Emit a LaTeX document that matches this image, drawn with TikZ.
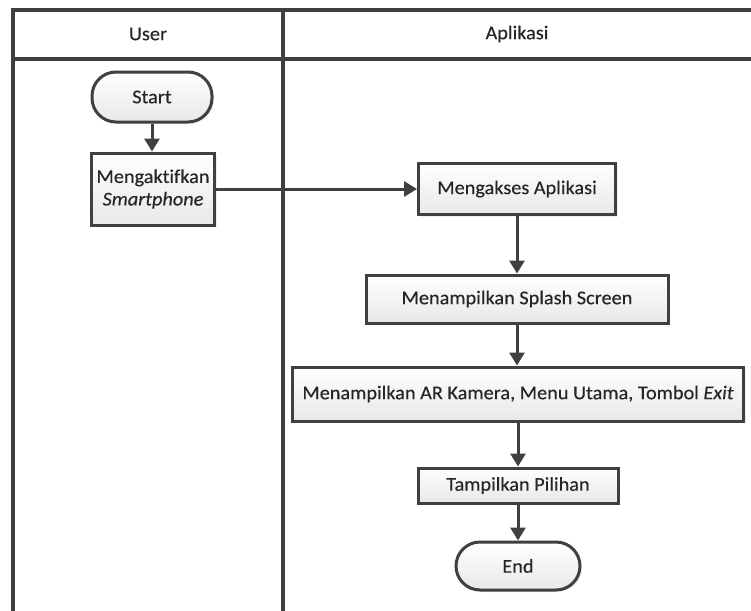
\documentclass[tikz,border=0pt]{standalone}
\usepackage{fontspec}
\setmainfont{Carlito}[FakeStretch=1.04,FakeBold=0.3,Ligatures=NoCommon]
\usetikzlibrary{arrows.meta,shadows}
\definecolor{linegray}{HTML}{404040}
\definecolor{textgray}{HTML}{262626}
\begin{document}
\begin{tikzpicture}[x=1pt,y=-1pt,
  font=\fontsize{19.5}{22.5}\selectfont,
  lane/.style={draw=linegray,line width=4pt},
  flowbox/.style={draw=linegray,line width=3pt,top color=white,bottom color=black!9,
    text=textgray,align=center,inner sep=0pt,
    drop shadow={opacity=0.12,shadow xshift=2pt,shadow yshift=-2pt}},
  terminal/.style={flowbox,rounded corners=24pt},
  flow/.style={draw=linegray,line width=3pt,-{Triangle[length=13pt,width=15pt]}}]
\useasboundingbox (0,0) rectangle (751,610);
\fill[white] (0,0) rectangle (751,610);

% swimlane frame
\draw[lane] (13,612) -- (13,10) -- (753,10);
\draw[lane] (11,58.5) -- (753,58.5);
\draw[lane] (283,10) -- (283,612);
\node[text=textgray] (huser) at (148,34) {User};
\node[text=textgray] (happ) at (517,34) {Aplikasi};

% user lane
\node[terminal,minimum width=120pt,minimum height=50pt] (start) at (152,97) {Start};
\node[flowbox,minimum width=123pt,minimum height=72pt] (act) at (153,189)
  {Mengaktifkan\\\textit{Smartphone}};

% application lane
\node[flowbox,minimum width=197pt,minimum height=51pt] (akses) at (517,189) {Mengakses Aplikasi};
\node[flowbox,minimum width=302pt,minimum height=48pt] (splash) at (517,299) {Menampilkan Splash Screen};
\node[flowbox,minimum width=451pt,minimum height=54pt] (ar) at (518,394)
  {Menampilkan AR Kamera, Menu Utama, Tombol \textit{Exit}};
\node[flowbox,minimum width=200pt,minimum height=35pt] (pilih) at (518,485.5) {Tampilkan Pilihan};
\node[terminal,minimum width=124pt,minimum height=48pt] (end) at (518,566) {End};

% connectors
\draw[flow] (start.south -| 152,0) -- (act.north -| 152,0);
\draw[flow] (act.east) -- (akses.west);
\draw[flow] (akses.south) -- (splash.north);
\draw[flow] (splash.south) -- (splash.south |- ar.north);
\draw[flow] (ar.south -| pilih.north) -- (pilih.north);
\draw[flow] (pilih.south) -- (end.north);
\end{tikzpicture}
\end{document}
